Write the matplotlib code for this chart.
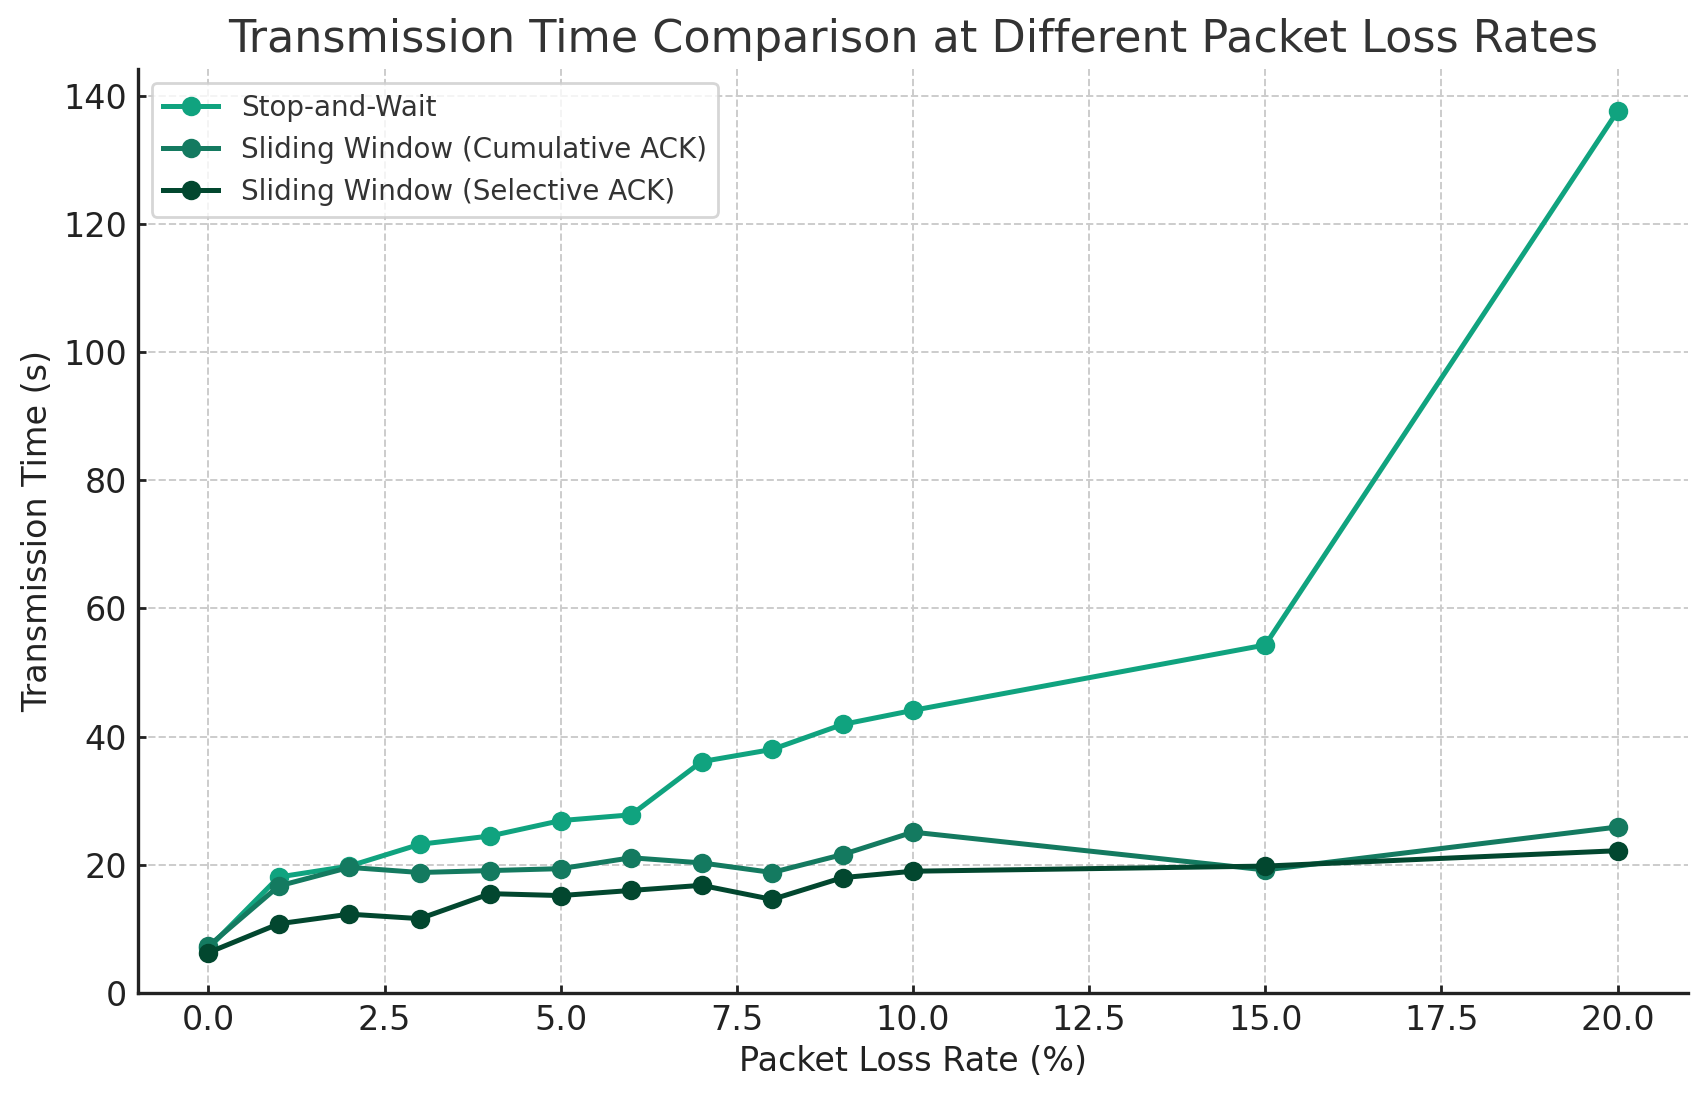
import matplotlib
matplotlib.use("Agg")
import matplotlib.pyplot as plt

loss_rates = [0, 1, 2, 3, 4, 5, 6, 7, 8, 9, 10, 15, 20]
stop_and_wait = [7.0, 18.1, 19.8, 23.2, 24.5, 26.9, 27.8, 36.1, 38.0, 41.9, 44.1, 54.3, 137.6]
sw_cumulative = [7.3, 16.7, 19.6, 18.8, 19.1, 19.4, 21.1, 20.3, 18.8, 21.6, 25.1, 19.2, 25.9]
sw_selective = [6.3, 10.8, 12.3, 11.6, 15.5, 15.2, 16.0, 16.8, 14.6, 18.0, 19.0, 19.8, 22.2]

series_labels = ["Stop-and-Wait", "Sliding Window (Cumulative ACK)", "Sliding Window (Selective ACK)"]
colors = ["#10A37F", "#147A60", "#02472F"]

plt.rcParams['font.family'] = ['DejaVu Sans']
fig = plt.figure(figsize=(8.535, 5.505), dpi=200)
ax = fig.add_axes([0.0808, 0.0981, 0.9081, 0.8392])

for vals, lab, c in zip([stop_and_wait, sw_cumulative, sw_selective], series_labels, colors):
    ax.plot(loss_rates, vals, marker='o', color=c, label=lab, linewidth=1.8, markersize=6)

ax.set_ylim(bottom=0)
ax.set_title("Transmission Time Comparison at Different Packet Loss Rates",
             fontsize=16, color="#333333")
ax.set_xlabel("Packet Loss Rate (%)", fontsize=12, color="#222222", labelpad=3)
ax.set_ylabel("Transmission Time (s)", fontsize=12, color="#222222", labelpad=3)
ax.tick_params(labelsize=12, colors="#222222", length=3, width=1, direction='in', pad=4)
ax.grid(True, linestyle='--', color="#cccccc", linewidth=0.7)
ax.set_axisbelow(True)
for s in ['top', 'right']:
    ax.spines[s].set_visible(False)
for s in ['left', 'bottom']:
    ax.spines[s].set_color("#222222")
    ax.spines[s].set_linewidth(1.2)

leg = ax.legend(loc='upper left', fontsize=10, frameon=True, fancybox=True)
leg.get_frame().set_edgecolor("#cccccc")
for t in leg.get_texts():
    t.set_color("#333333")

fig.savefig("out.png", dpi=200)
